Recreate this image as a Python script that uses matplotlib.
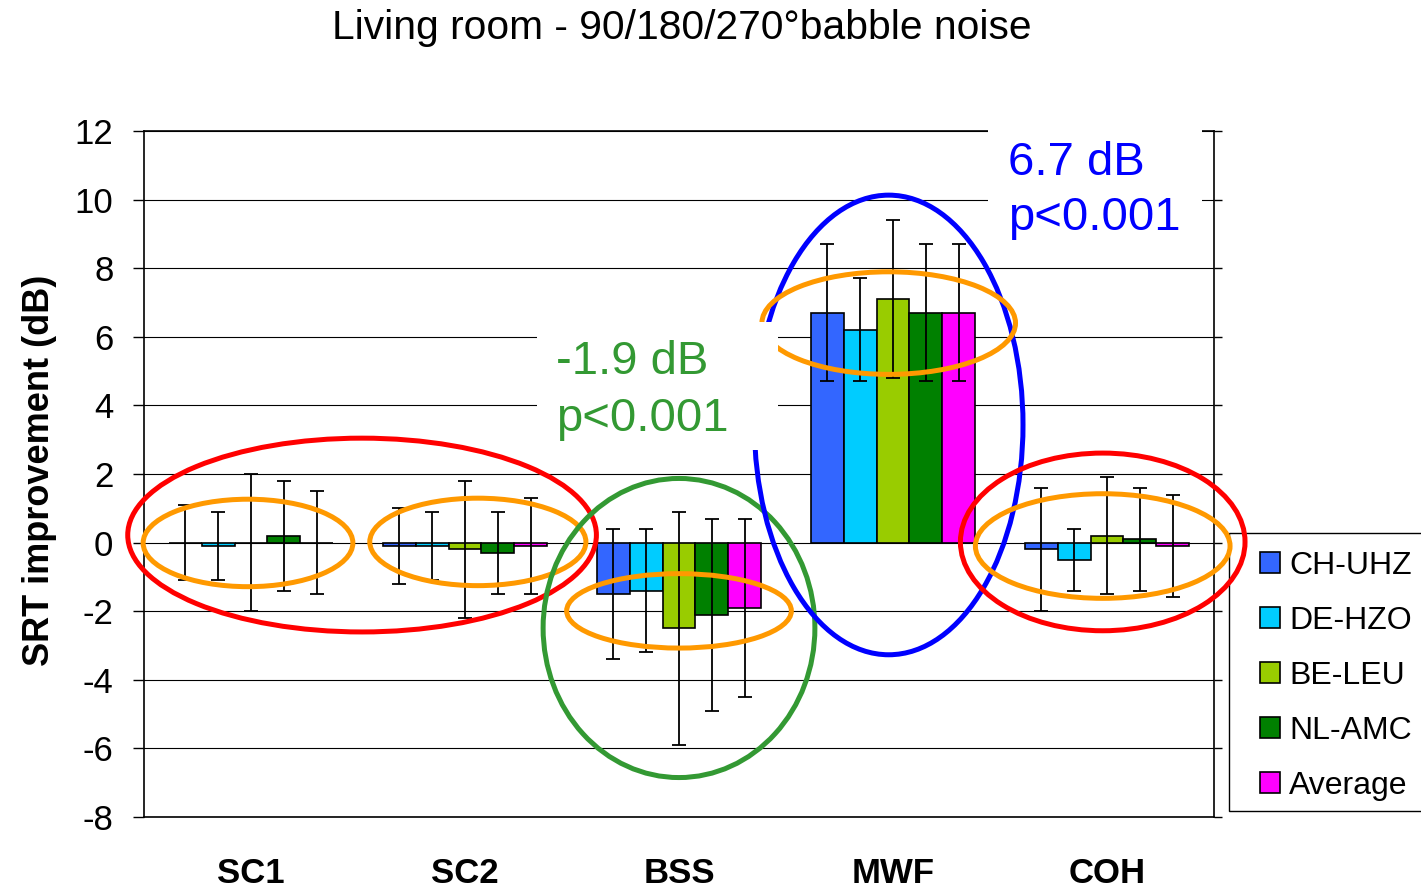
import matplotlib
matplotlib.use("Agg")
import matplotlib.pyplot as plt
import numpy as np
from matplotlib.patches import Ellipse, Rectangle

plt.rcParams['font.family'] = ['Liberation Sans', 'DejaVu Sans']
plt.rcParams['axes.unicode_minus'] = False

# ---- data ----
categories = ["SC1", "SC2", "BSS", "MWF", "COH"]
series_names = ["CH-UHZ", "DE-HZO", "BE-LEU", "NL-AMC", "Average"]
series_colors = ["#3366FF", "#00CCFF", "#99CC00", "#008000", "#FF00FF"]

ch_uhz = [0.0, -0.1, -1.5, 6.7, -0.2]
de_hzo = [-0.1, -0.1, -1.4, 6.2, -0.5]
be_leu = [0.0, -0.2, -2.5, 7.1, 0.2]
nl_amc = [0.2, -0.3, -2.1, 6.7, 0.1]
average = [0.0, -0.1, -1.9, 6.7, -0.1]

ch_uhz_err = [1.1, 1.1, 1.9, 2.0, 1.8]
de_hzo_err = [1.0, 1.0, 1.8, 1.5, 0.9]
be_leu_err = [2.0, 2.0, 3.4, 2.3, 1.7]
nl_amc_err = [1.6, 1.2, 2.8, 2.0, 1.5]
average_err = [1.5, 1.4, 2.6, 2.0, 1.5]

values = [ch_uhz, de_hzo, be_leu, nl_amc, average]
errors = [ch_uhz_err, de_hzo_err, be_leu_err, nl_amc_err, average_err]

yticks = [-8, -6, -4, -2, 0, 2, 4, 6, 8, 10, 12]

# ---- figure ----
W, H = 1421, 888
fig = plt.figure(figsize=(W / 100, H / 100), dpi=100)
ax = fig.add_axes([144 / W, 1 - 817 / H, (1214 - 144) / W, (817 - 131) / H])

x = np.arange(len(categories))
bw = 0.154
for i, (name, col, vals, errs) in enumerate(zip(series_names, series_colors, values, errors)):
    off = (i - 2) * bw
    ax.bar(x + off, vals, width=bw, color=col, edgecolor='black', linewidth=1.2,
           label=name, zorder=2)
    ax.errorbar(x + off, vals, yerr=errs, fmt='none', ecolor='black', elinewidth=1.3,
                capsize=5, capthick=1.3, zorder=3)

ax.set_xlim(-0.5, len(categories) - 0.5)
ax.set_ylim(-8, 12)
ax.set_yticks(yticks)
ax.set_yticklabels([str(t) for t in yticks], fontsize=25)
ax.set_xticks(x)
ax.set_xticklabels(categories, fontsize=25, fontweight='bold')
ax.tick_params(axis='x', length=0, pad=29)
ax.tick_params(axis='y', direction='out', length=8, width=1.0, pad=14, right=True)
for t in ax.yaxis.get_major_ticks():
    t.tick2line.set_markersize(6)
ax.yaxis.grid(True, color='black', linewidth=0.8)
ax.set_axisbelow(True)
for s in ax.spines.values():
    s.set_linewidth(1.2)
    s.set_color('black')

# ---- ellipses (annotations) ----
ellipses = [
    # (xc, yc, w, h, color)
    (0.519, 0.22, 2.19, 5.65, '#FF0000'),
    (-0.014, -0.01, 0.98, 2.55, '#FF9900'),
    (1.06, 0.02, 1.01, 2.55, '#FF9900'),
    (2.0, -2.49, 1.27, 8.72, '#339933'),
    (2.0, -1.99, 1.05, 2.17, '#FF9900'),
    (2.98, 3.43, 1.255, 13.4, '#0000FF'),
    (2.98, 6.4, 1.185, 2.99, '#FF9900'),
    (3.98, 0.02, 1.33, 5.18, '#FF0000'),
    (3.98, -0.1, 1.19, 3.05, '#FF9900'),
]
for xc, yc, w, h, c in ellipses:
    ax.add_patch(Ellipse((xc, yc), w, h, fill=False, edgecolor=c, linewidth=3.6,
                         zorder=4, clip_on=False))

# white boxes behind the annotation texts
ax.add_patch(Rectangle((1.336, 2.70), 1.127, 3.73, facecolor='white', edgecolor='none',
                       zorder=5, clip_on=False))
ax.add_patch(Rectangle((3.444, 8.68), 1.0, 3.55, facecolor='white', edgecolor='none',
                       zorder=5, clip_on=False))

ax.text(1.425, 4.92, "-1.9 dB", color='#339933', fontsize=34, va='baseline', ha='left', zorder=6)
ax.text(1.425, 3.25, "p<0.001", color='#339933', fontsize=34, va='baseline', ha='left', zorder=6)
ax.text(3.537, 10.72, "6.7 dB", color='#0000FF', fontsize=34, va='baseline', ha='left', zorder=6)
ax.text(3.537, 9.11, "p<0.001", color='#0000FF', fontsize=34, va='baseline', ha='left', zorder=6)

# ---- title & ylabel ----
fig.text(682 / W, 1 - 28 / H, "Living room - 90/180/270°babble noise", fontsize=29.3,
         ha='center', va='center')
fig.text(40 / W, 1 - 470 / H, "SRT improvement (dB)", fontsize=26, fontweight='bold',
         rotation=90, ha='center', va='center')

# ---- legend ----
frame = Rectangle((1229 / W, 1 - 811 / H), (1440 - 1229) / W, (811 - 533) / H,
                  transform=fig.transFigure, facecolor='white', edgecolor='black',
                  linewidth=1.0, zorder=-2)
fig.patches.append(frame)
leg = fig.legend(loc='upper left', bbox_to_anchor=(1260 / W, 1 - 551 / H),
                 bbox_transform=fig.transFigure, fontsize=23, frameon=False,
                 borderaxespad=0, borderpad=0,
                 labelspacing=0.78, handlelength=0.62, handleheight=0.62,
                 handletextpad=0.3)
leg.set_zorder(-1)

fig.savefig("out.png", dpi=100)
